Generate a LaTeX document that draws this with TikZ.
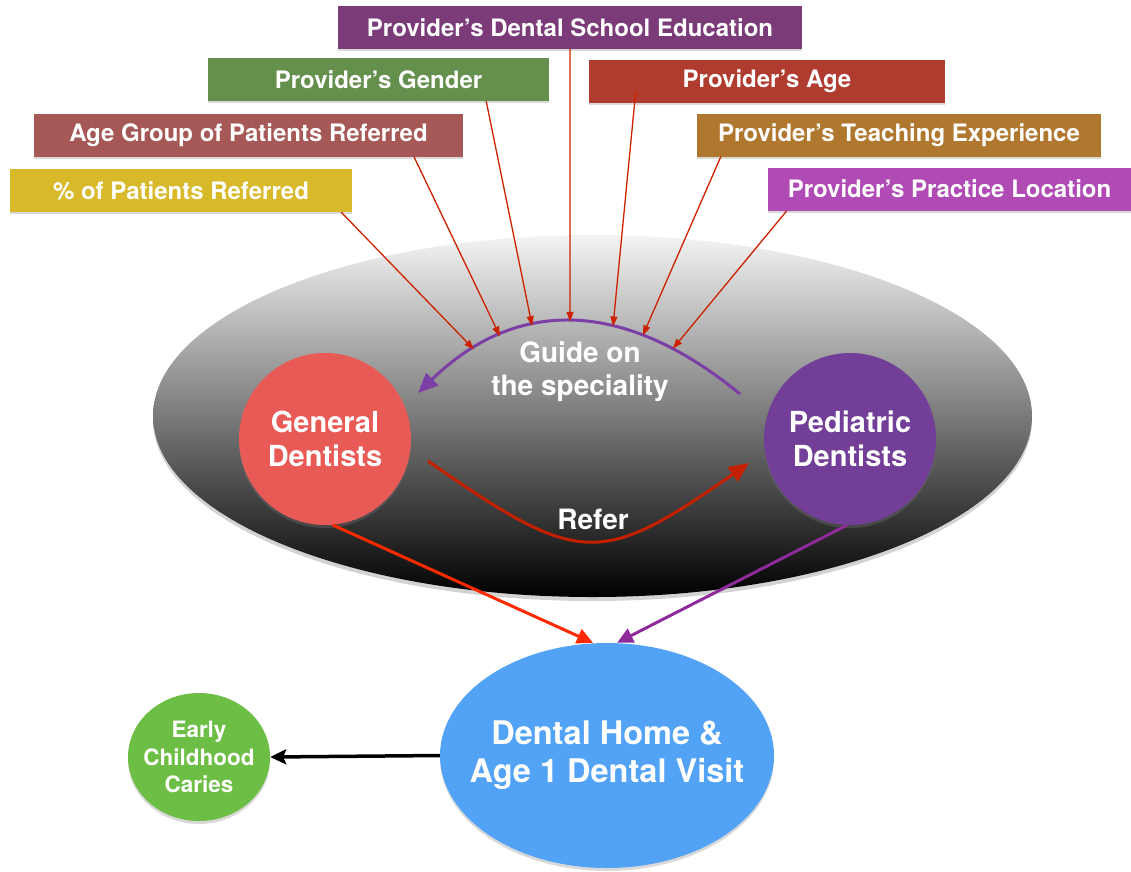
\documentclass[tikz,border=0pt]{standalone}
\usepackage{fontspec}
\setmainfont{TeX Gyre Heros}
\usetikzlibrary{shapes.geometric,arrows.meta,calc,shadows}
\definecolor{cDSE}{HTML}{7A3B78}
\definecolor{cGender}{HTML}{658F4C}
\definecolor{cAgeGrp}{HTML}{A65856}
\definecolor{cPct}{HTML}{D8B92A}
\definecolor{cAge}{HTML}{B03C2F}
\definecolor{cTeach}{HTML}{B0782E}
\definecolor{cLoc}{HTML}{B04BB5}
\definecolor{cGen}{HTML}{E85A56}
\definecolor{cPed}{HTML}{723E98}
\definecolor{cHome}{HTML}{52A3F5}
\definecolor{cECC}{HTML}{6CBE45}
\definecolor{cThin}{HTML}{CC2200}
\definecolor{cGuide}{HTML}{7B3FA5}
\definecolor{cRefer}{HTML}{C42000}
\definecolor{cRed}{HTML}{FF2A00}
\definecolor{cPurp}{HTML}{8E2A99}
\definecolor{cTop}{HTML}{F4F4F4}
\begin{document}
\begin{tikzpicture}[x=1pt,y=-1pt,
  factor/.style={rectangle, minimum height=43pt, inner sep=0pt, text=white,
    font=\bfseries\fontsize{24}{28}\selectfont,
    drop shadow={opacity=0.3, shadow xshift=0pt, shadow yshift=-2pt}},
  disc/.style={inner sep=0pt, text=white, align=center,
    drop shadow={opacity=0.3, shadow xshift=0pt, shadow yshift=-3pt}},
  thin/.style={draw=cThin, line width=1.3pt, -{Triangle[length=10pt,width=7pt]}},
  guide/.style={draw=cGuide, line width=3pt, -{Triangle[length=20pt,width=17pt]}},
  refer/.style={draw=cRefer, line width=3pt, -{Triangle[length=20pt,width=17pt]}},
  lbl/.style={text=white, align=center, font=\bfseries\fontsize{28}{33}\selectfont},
  inner/.style={text=white, align=center, inner sep=0pt},
]
\useasboundingbox (0,0) rectangle (1131,871);

% big shaded field
\node[ellipse, minimum width=879pt, minimum height=362pt, inner sep=0pt,
      top color=cTop, bottom color=black,
      drop shadow={opacity=0.35, shadow xshift=0pt, shadow yshift=-4pt}] (field) at (592.5,416) {};

% factor boxes
\node[factor, fill=cDSE, minimum width=464pt] (dse) at (570,27.5) {Provider’s Dental School Education};
\node[factor, fill=cGender, minimum width=341pt] (gender) at (378.5,79.5) {Provider’s Gender};
\node[factor, fill=cAgeGrp, minimum width=429pt] (agegrp) at (248.5,135.5) {Age Group of Patients Referred};
\node[factor, fill=cPct, minimum width=342pt] (pct) at (181,190.5) {\% of Patients Referred};
\node[factor, fill=cAge, minimum width=356pt] (age) at (767,81) {Provider’s Age};
\node[factor, fill=cTeach, minimum width=404pt] (teach) at (899,135) {Provider’s Teaching Experience};
\node[factor, fill=cLoc, minimum width=363pt] (loc) at (949.5,189) {Provider’s Practice Location};

% dentists
\node[disc, circle, minimum size=172pt, fill=cGen] (general) at (325,439) {};
\node[inner, font=\bfseries\fontsize{29}{34}\selectfont] (generaltxt) at (general.center) {General\\Dentists};
\node[disc, circle, minimum size=172pt, fill=cPed] (pediatric) at (850,439) {};
\node[inner, font=\bfseries\fontsize{29}{34}\selectfont] (pediatrictxt) at (pediatric.center) {Pediatric\\Dentists};

% outcome nodes
\node[disc, ellipse, minimum width=334pt, minimum height=225pt, fill=cHome] (home) at (607,755.5) {};
\node[inner, font=\bfseries\fontsize{32.5}{38}\selectfont] (hometxt) at (home.center) {Dental Home \&\\Age 1 Dental Visit};
\node[disc, ellipse, minimum width=142pt, minimum height=128pt, fill=cECC] (ecc) at (199,757) {};
\node[inner, font=\bfseries\fontsize{22.5}{27.5}\selectfont] (ecctxt) at (ecc.center) {Early\\Childhood\\Caries};

% guide arc (pediatric -> general)
\coordinate (gstart) at (740,394);
\coordinate (gend) at (418,393);
\draw[guide] (gstart) .. controls (623.3,298) and (516,297.7) .. (gend)
  coordinate[pos=0.8127] (t1)
  coordinate[pos=0.728] (t2)
  coordinate[pos=0.625] (t3)
  coordinate[pos=0.506] (t4)
  coordinate[pos=0.374] (t5)
  coordinate[pos=0.284] (t6)
  coordinate[pos=0.195] (t7);
\node[lbl] (guidetxt) at (580,372) {Guide on\\the speciality};

% refer arc (general -> pediatric)
\coordinate (rstart) at (428,461);
\coordinate (rend) at (749,463);
\draw[refer] (rstart) .. controls (580,567) and (600,567) .. (rend);
\node[lbl] (refertxt) at (593,519) {Refer};

% factor arrows
\draw[thin] ($(pct.south east)+(-11,0)$) -- (t1);
\draw[thin] ($(agegrp.south east)+(-49,0)$) -- (t2);
\draw[thin] ($(gender.south east)+(-63,0)$) -- (t3);
\draw[thin] (dse.south) -- (t4);
\draw[thin] ($(age.south west)+(47,-12)$) -- (t5);
\draw[thin] ($(teach.south west)+(24,0)$) -- (t6);
\draw[thin] ($(loc.south west)+(19,0)$) -- (t7);

% to dental home
\draw[draw=cRed, line width=3pt, -{Triangle[length=16pt,width=15pt]}]
  (general.-85) -- ($(home.north)+(-14,0)$);
\draw[draw=cPurp, line width=3pt, -{Triangle[length=16pt,width=15pt]}]
  (pediatric.-92) -- ($(home.north)+(10,0)$);
\draw[draw=black, line width=3.5pt, -{Stealth[length=16pt,width=15pt,inset=3pt]}]
  (home.west) -- (ecc.east);
\end{tikzpicture}
\end{document}
